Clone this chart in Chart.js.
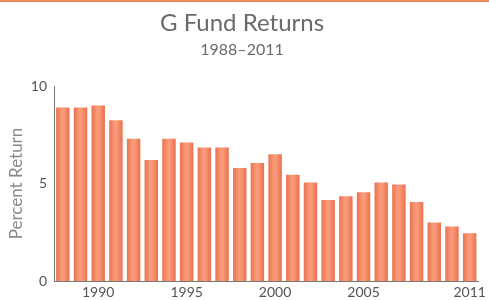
<!DOCTYPE html>
<html>
<head>
<meta charset="utf-8">
<script src="https://cdn.jsdelivr.net/npm/chart.js@4"></script>
<style>
  html, body { margin: 0; padding: 0; background: #fff; }
  #wrap { width: 489px; height: 300px; position: relative; }
</style>
</head>
<body>
<div id="wrap"><canvas id="chart"></canvas></div>
<script>
// data
var years = ['1988','1989','1990','1991','1992','1993','1994','1995','1996','1997','1998','1999',
             '2000','2001','2002','2003','2004','2005','2006','2007','2008','2009','2010','2011'];
var returns = [8.9, 8.9, 9.0, 8.25, 7.3, 6.2, 7.3, 7.1, 6.85, 6.85, 5.8, 6.05,
               6.5, 5.45, 5.05, 4.15, 4.35, 4.55, 5.05, 4.95, 4.05, 3.0, 2.8, 2.45];
var shownYears = ['1990', '1995', '2000', '2005', '2011'];
var yTicks = [0, 5, 10];

// orange rule across the top of the picture
const topRule = {
    id: 'topRule',
    beforeDraw(chart) {
        const c = chart.ctx;
        c.save();
        c.fillStyle = '#ffffff';
        c.fillRect(0, 0, chart.width, chart.height);
        c.strokeStyle = '#ec8b55';
        c.lineWidth = 2;
        c.beginPath();
        c.moveTo(0, 1);
        c.lineTo(chart.width, 1);
        c.stroke();
        c.restore();
    }
};

// cylinder-like shading on each bar
function barFill(ctx) {
    const chart = ctx.chart;
    if (!chart.chartArea || ctx.dataIndex === undefined) return '#f4865f';
    const x = chart.scales.x.getPixelForValue(ctx.dataIndex);
    const half = 7;
    const g = chart.ctx.createLinearGradient(x - half, 0, x + half, 0);
    g.addColorStop(0, '#ea714c');
    g.addColorStop(0.45, '#fa9c7b');
    g.addColorStop(0.6, '#f99676');
    g.addColorStop(1, '#e86e4a');
    return g;
}

var ctx = document.getElementById('chart').getContext('2d');
var chart = new Chart(ctx, {
    type: 'bar',
    data: {
        labels: years,
        datasets: [{
            data: returns,
            backgroundColor: barFill,
            borderWidth: 0,
            barPercentage: 0.76,
            categoryPercentage: 1.0
        }]
    },
    options: {
        responsive: true,
        maintainAspectRatio: false,
        animation: false,
        layout: { padding: { left: 0, right: 5, top: 0, bottom: 0 } },
        plugins: {
            legend: { display: false },
            tooltip: { enabled: false },
            title: {
                display: true,
                text: 'G Fund Returns',
                color: '#6a6a6a',
                font: { family: 'Lato', size: 24, weight: 'normal' },
                padding: { top: 9, bottom: 2 }
            },
            subtitle: {
                display: true,
                text: '1988\u20132011',
                color: '#6a6a6a',
                font: { family: 'Lato', size: 16, weight: 'normal' },
                padding: { top: 0, bottom: 27 }
            }
        },
        scales: {
            x: {
                grid: { display: false, drawTicks: false },
                border: { display: true, color: '#777777', width: 1 },
                ticks: {
                    autoSkip: false,
                    maxRotation: 0,
                    padding: 3,
                    color: '#555555',
                    font: { family: 'Lato', size: 14 },
                    callback: function(v, i) {
                        var l = years[i];
                        return shownYears.indexOf(l) >= 0 ? l : '';
                    }
                },
                afterFit: function(s) { s.height = 19; }
            },
            y: {
                min: 0,
                max: 10,
                afterBuildTicks: function(s) { s.ticks = yTicks.map(function(v) { return { value: v }; }); },
                grid: { display: false, drawTicks: false },
                border: { display: true, color: '#777777', width: 1 },
                ticks: {
                    padding: 7,
                    color: '#555555',
                    font: { family: 'Lato', size: 14 }
                },
                title: {
                    display: true,
                    text: 'Percent Return',
                    color: '#8a8a8a',
                    font: { family: 'Lato', size: 17 },
                    padding: { top: 6, bottom: 6 }
                },
                afterFit: function(s) { s.width = 54; }
            }
        }
    },
    plugins: [topRule]
});
</script>
</body>
</html>
